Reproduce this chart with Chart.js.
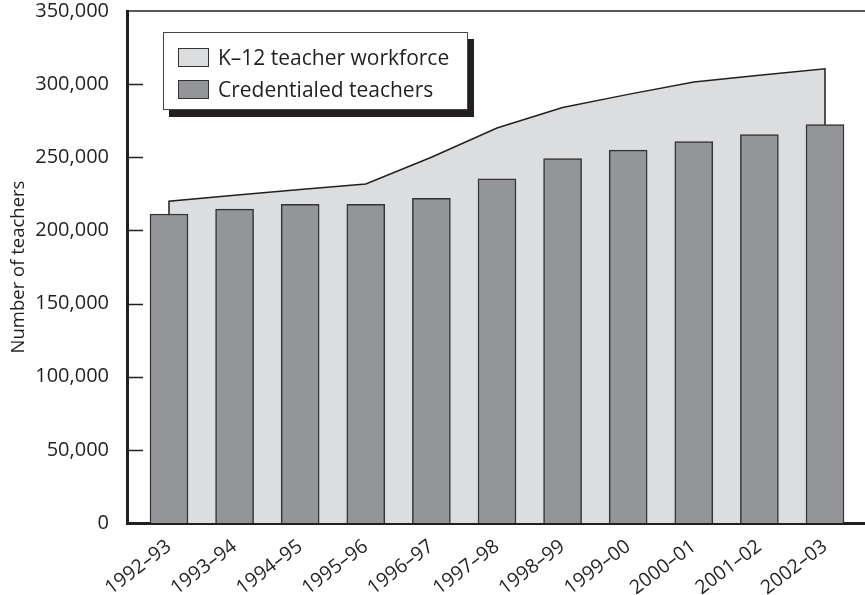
<!DOCTYPE html>
<html lang="en">
<head>
    <meta charset="UTF-8">
    <title>Number of teachers, 1992–93 to 2002–03</title>
    <script src="https://cdn.jsdelivr.net/npm/chart.js"></script>
    <style>
        body { margin: 0; background: #fff; font-family: "Open Sans", sans-serif; }
        #wrap { position: relative; width: 865px; height: 595px; }
        #legend {
            position: absolute; left: 163px; top: 32px; width: 305px; height: 78px;
            box-sizing: border-box; background: #fff; border: 1px solid #444;
            box-shadow: 6px 7px 0 #231f20; color: #231f20; font-size: 21px;
        }
        #legend div { position: absolute; left: 14px; height: 20px; line-height: 20px; white-space: nowrap; }
        #legend span {
            display: inline-block; width: 31px; height: 19px; box-sizing: border-box;
            border: 1.5px solid #333; vertical-align: top; margin: 1px 9px 0 0;
        }
    </style>
</head>
<body>
<div id="wrap">
    <canvas id="teachersChart" width="865" height="595"></canvas>
    <div id="legend">
        <div style="top: 14px"><span style="background:#dcdddf"></span>K–12 teacher workforce</div>
        <div style="top: 46px"><span style="background:#939598"></span>Credentialed teachers</div>
    </div>
</div>

<script>
    const years = ['1992–93', '1993–94', '1994–95', '1995–96', '1996–97', '1997–98',
                   '1998–99', '1999–00', '2000–01', '2001–02', '2002–03'];
    const workforce = [220000, 224000, 228000, 231700, 250000, 270000, 284000, 293000, 301500, 306000, 310500];
    const credentialed = [211200, 214600, 217800, 217800, 221900, 235300, 249200, 254900, 260800, 265600, 272400];
    const yTicks = [0, 50000, 100000, 150000, 200000, 250000, 300000, 350000];

    const ink = '#231f20';
    const fontFamily = '"Open Sans", sans-serif';

    // aire : on ferme la forme jusqu'à zéro aux deux bouts
    const areaPoints = [{ x: 0, y: 0 }]
        .concat(workforce.map((v, i) => ({ x: i, y: v })))
        .concat([{ x: years.length - 1, y: 0 }]);
    const barPoints = credentialed.map((v, i) => ({ x: i, y: v }));

    // petites graduations vers l'intérieur + filet du haut
    const frame = {
        id: 'frame',
        afterDatasetsDraw(chart) {
            const { ctx, chartArea, scales: { y } } = chart;
            ctx.save();
            ctx.strokeStyle = ink;
            ctx.lineWidth = 1.5;
            yTicks.slice(1, -1).forEach(v => {
                const py = Math.round(y.getPixelForValue(v)) + 0.5;
                ctx.beginPath();
                ctx.moveTo(chartArea.left, py);
                ctx.lineTo(chartArea.left + 16, py);
                ctx.stroke();
            });
            ctx.beginPath();
            ctx.moveTo(chartArea.left, chartArea.top);
            ctx.lineTo(chartArea.right, chartArea.top);
            ctx.stroke();
            ctx.restore();
        }
    };

    new Chart(document.getElementById('teachersChart'), {
        data: {
            datasets: [{
                type: 'bar',
                label: 'Credentialed teachers',
                data: barPoints,
                backgroundColor: '#939598',
                borderColor: '#333',
                borderWidth: 1.5,
                borderSkipped: 'bottom',
                barThickness: 38,
                order: 0
            }, {
                type: 'line',
                label: 'K–12 teacher workforce',
                data: areaPoints,
                backgroundColor: '#dcdddf',
                borderColor: ink,
                borderWidth: 1.5,
                pointRadius: 0,
                tension: 0,
                fill: 'origin',
                order: 1
            }]
        },
        options: {
            responsive: false,
            animation: false,
            layout: { padding: { top: 11, right: 0, bottom: 0, left: 0 } },
            plugins: { legend: { display: false }, tooltip: { enabled: false } },
            scales: {
                x: {
                    type: 'linear',
                    offset: false,
                    min: -0.64,
                    max: 10.61,
                    grid: { display: false },
                    border: { color: ink, width: 3 },
                    afterBuildTicks: scale => { scale.ticks = years.map((_, i) => ({ value: i })); },
                    afterFit: scale => { scale.height = 72; },
                    ticks: {
                        minRotation: 37, maxRotation: 37, padding: 4,
                        color: ink, font: { family: fontFamily, size: 19.5 },
                        callback: v => years[v]
                    }
                },
                y: {
                    min: 0,
                    max: 350000,
                    grid: { display: false },
                    border: { color: ink, width: 3 },
                    afterBuildTicks: scale => { scale.ticks = yTicks.map(v => ({ value: v })); },
                    afterFit: scale => {
                        scale.width = 127;
                        scale.paddingTop = 0;
                        scale.paddingBottom = 0;
                    },
                    ticks: {
                        padding: 10, color: ink, font: { family: fontFamily, size: 20 },
                        callback: v => v.toLocaleString('en-US')
                    },
                    title: {
                        display: true, text: 'Number of teachers', color: ink,
                        font: { family: fontFamily, size: 18.5 }, padding: { top: 8, bottom: 0 }
                    }
                }
            }
        },
        plugins: [frame]
    });
</script>
</body>
</html>
